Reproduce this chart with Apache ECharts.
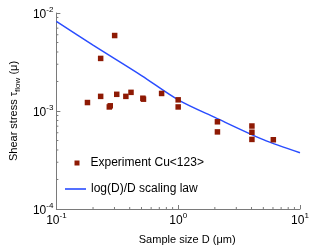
<!DOCTYPE html>
<html><head><meta charset="utf-8">
<script src="https://cdn.jsdelivr.net/npm/echarts@6/dist/echarts.min.js"></script>
<style>html,body{margin:0;padding:0;background:#fff}#c{width:332px;height:250px}</style>
</head><body><div id="c"></div>
<script>
// Experiment Cu<123> : sample size D (µm), shear stress (µ)
const expD   = [0.301, 0.231, 0.180, 0.231, 0.272, 0.277, 0.313, 0.372, 0.410, 0.513, 0.519, 0.731, 1.0, 1.0, 2.10, 2.10, 4.03, 4.03, 4.03, 6.04];
const expTau = [0.00589, 0.00344, 0.00122, 0.00141, 0.00110, 0.00113, 0.00148, 0.00141, 0.00155, 0.00135, 0.00132, 0.00151, 0.00130, 0.00110, 0.000776, 0.000612, 0.000703, 0.000607, 0.000513, 0.000509];
// log(D)/D scaling law
const lawD   = [0.1, 0.2, 0.5, 1, 2, 5, 10];
const lawTau = [0.0082, 0.0047, 0.0023, 0.0013, 0.00086, 0.00051, 0.000375];
// axis ranges and minor tick values
const xRange = [0.1, 10];
const yRange = [0.0001, 0.01];
const xMinor = [0.2, 0.3, 0.4, 0.5, 0.6, 0.7, 0.8, 0.9, 2, 3, 4, 5, 6, 7, 8, 9];
const yMinor = [0.0002, 0.0003, 0.0004, 0.0005, 0.0006, 0.0007, 0.0008, 0.0009, 0.002, 0.003, 0.004, 0.005, 0.006, 0.007, 0.008, 0.009];

const FONT = '"Liberation Sans", Arial, Helvetica, sans-serif';
const AX = '#7a7a7a';
function expLabel(v) {
  const e = Math.round(Math.log10(v));
  return '{b|10}{s|' + e + '}';
}
const labelRich = {
  b: {fontSize: 12, fontFamily: FONT, color: '#000', padding: [3, 0, 0, 0], verticalAlign: 'bottom'},
  s: {fontSize: 8, fontFamily: FONT, color: '#000', verticalAlign: 'top'}
};
function tickRender(dx, dy) {
  return function (params, api) {
    const p = api.coord([api.value(0), api.value(1)]);
    return {type: 'line', shape: {x1: p[0], y1: p[1], x2: p[0] + dx, y2: p[1] + dy},
            style: {stroke: AX, lineWidth: 1}, silent: true};
  };
}

const chart = echarts.init(document.getElementById('c'), null, {renderer: 'canvas'});
chart.setOption({
  animation: false,
  backgroundColor: '#fff',
  grid: {left: 45.5, right: 32, top: 13, bottom: 36},
  xAxis: {
    type: 'log', logBase: 10, min: xRange[0], max: xRange[1],
    name: 'Sample size D (\u03bcm)', nameLocation: 'middle', nameGap: 25,
    nameTextStyle: {fontSize: 11, fontFamily: FONT, color: '#000', padding: [0, 0, 0, 18]},
    axisLine: {show: true, lineStyle: {color: AX, width: 1}},
    axisTick: {show: true, inside: true, length: 4, lineStyle: {color: AX}},
    axisLabel: {margin: 3, formatter: expLabel, rich: labelRich},
    splitLine: {show: false}
  },
  yAxis: {
    type: 'log', logBase: 10, min: yRange[0], max: yRange[1],
    name: '{a|Shear stress \u03c4}{sub|flow}{a| (\u03bc)}', nameLocation: 'middle', nameGap: 27, nameRotate: 90,
    nameTextStyle: {fontSize: 11, fontFamily: FONT, color: '#000', rich: {
      a: {fontSize: 11, fontFamily: FONT, color: '#000', verticalAlign: 'top', padding: [0, 0, 3, 0]},
      sub: {fontSize: 8, fontFamily: FONT, color: '#000', verticalAlign: 'bottom'}
    }},
    axisLine: {show: true, lineStyle: {color: AX, width: 1}},
    axisTick: {show: true, inside: true, length: 4, lineStyle: {color: AX}},
    axisLabel: {margin: 3, formatter: expLabel, rich: labelRich},
    splitLine: {show: false}
  },
  legend: [
    {data: [{name: 'Experiment Cu<123>', icon: 'rect'}], left: 74.5, top: 157, padding: 0, itemWidth: 5, itemHeight: 5,
     textStyle: {fontSize: 12, fontFamily: FONT, color: '#000', padding: [0, 0, 0, 6]}, selectedMode: false},
    {data: [{name: 'log(D)/D scaling law', icon: 'rect'}], left: 65, top: 183, padding: 0, itemWidth: 21, itemHeight: 1.6,
     textStyle: {fontSize: 12, fontFamily: FONT, color: '#000'}, selectedMode: false}
  ],
  series: [
    {name: 'xminor', type: 'custom', silent: true, clip: false, renderItem: tickRender(0, -2),
     data: xMinor.map(v => [v, yRange[0]]), z: 1},
    {name: 'yminor', type: 'custom', silent: true, clip: false, renderItem: tickRender(2, 0),
     data: yMinor.map(v => [xRange[0], v]), z: 1},
    {name: 'log(D)/D scaling law', type: 'line', smooth: 0.3, symbol: 'none',
     lineStyle: {color: '#2a4dff', width: 1.5}, itemStyle: {color: '#2a4dff'},
     data: lawD.map((d, i) => [d, lawTau[i]]), z: 2},
    {name: 'Experiment Cu<123>', type: 'scatter', symbol: 'rect', symbolSize: 5.5,
     itemStyle: {color: '#8e1a04', opacity: 1},
     data: expD.map((d, i) => [d, expTau[i]]), z: 3}
  ]
});
</script></body></html>
